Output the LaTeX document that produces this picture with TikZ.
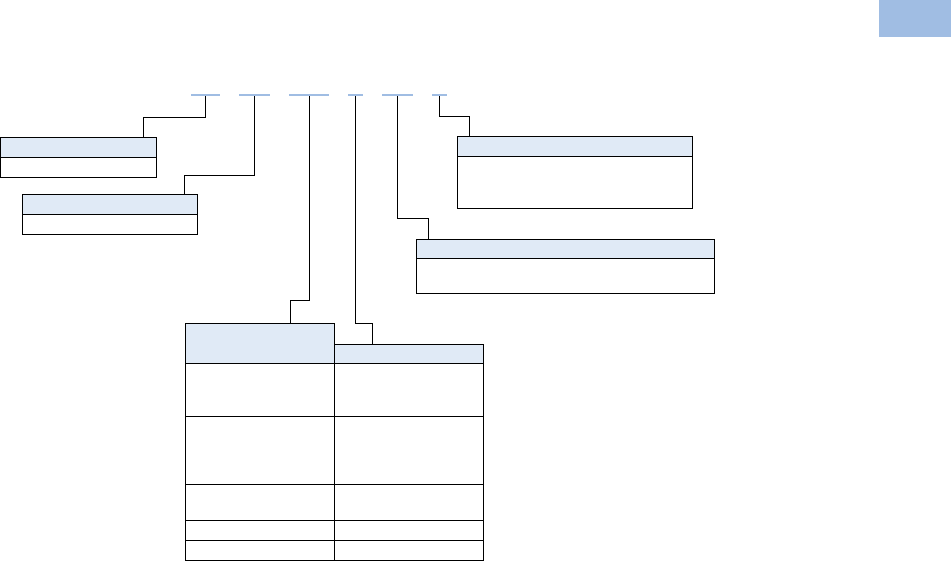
\documentclass[tikz,border=0pt]{standalone}
\usetikzlibrary{positioning}

\definecolor{headblue}{RGB}{224,234,246}
\definecolor{markblue}{RGB}{160,189,227}

\begin{document}
\begin{tikzpicture}[
  x=1pt, y=-1pt,
  cell/.style={rectangle, draw, line width=1pt, anchor=north west, inner sep=0pt, outer sep=0pt, minimum width=#1},
  head/.style={cell=#1, fill=headblue},
  dash/.style={rectangle, fill=markblue, inner sep=0pt, minimum height=2pt, minimum width=#1},
  link/.style={line width=1pt}
]
\useasboundingbox (0,0) rectangle (951,561);

% tab in the corner
\node[rectangle, fill=markblue, anchor=north west, inner sep=0pt, minimum width=72pt, minimum height=37pt] (tab) at (879,0) {};

% code positions
\node[dash=29pt] (d1) at (205.5,95) {};
\node[dash=31pt] (d2) at (254.5,95) {};
\node[dash=40pt] (d3) at (309,95) {};
\node[dash=15pt] (d4) at (355.5,95) {};
\node[dash=31pt] (d5) at (397.5,95) {};
\node[dash=15pt] (d6) at (439.5,95) {};

% small boxes
\node[head=156pt, minimum height=20pt] (h1) at (0.5,137.3) {};
\node[cell=156pt, minimum height=20pt] (b1) at (0.5,157.3) {};

\node[head=175.4pt, minimum height=20pt] (h2) at (22.3,194.3) {};
\node[cell=175.4pt, minimum height=20pt] (b2) at (22.3,214.3) {};

\node[head=235pt, minimum height=20pt] (h6) at (457.3,136.3) {};
\node[cell=235pt, minimum height=52pt] (b6) at (457.3,156.3) {};

\node[head=298pt, minimum height=19pt] (h5) at (416.3,239.3) {};
\node[cell=298pt, minimum height=35.7pt] (b5) at (416.3,258.3) {};

% table
\node[head=149pt, minimum height=40pt] (th1) at (185.3,324) {};
\node[head=149pt, minimum height=19.7pt] (th2) at (334.3,344.3) {};
\node[cell=149pt, minimum height=52.3pt] (r1a) at (185.3,364) {};
\node[cell=149pt, minimum height=52.3pt] (r1b) at (334.3,364) {};
\node[cell=149pt, minimum height=68pt] (r2a) at (185.3,416.3) {};
\node[cell=149pt, minimum height=68pt] (r2b) at (334.3,416.3) {};
\node[cell=149pt, minimum height=36pt] (r3a) at (185.3,484.3) {};
\node[cell=149pt, minimum height=36pt] (r3b) at (334.3,484.3) {};
\node[cell=149pt, minimum height=20pt] (r4a) at (185.3,520.3) {};
\node[cell=149pt, minimum height=20pt] (r4b) at (334.3,520.3) {};
\node[cell=149pt, minimum height=19.7pt] (r5a) at (185.3,540.3) {};
\node[cell=149pt, minimum height=19.7pt] (r5b) at (334.3,540.3) {};

% bends of the leaders
\coordinate (j1) at (143.3,117.3);
\coordinate (j2) at (184.3,175.3);
\coordinate (j3) at (290.3,301);
\coordinate (j4) at (372.3,324);
\coordinate (j5) at (428.3,218.3);
\coordinate (j6) at (469.3,116.7);

\draw[link] (d1.south) |- (j1) -- (j1 |- h1.north);
\draw[link] (d2.south) |- (j2) -- (j2 |- h2.north);
\draw[link] (d3.south) |- (j3) -- (j3 |- th1.north);
\draw[link] (d4.south) |- (j4) -- (j4 |- th2.north);
\draw[link] (d5.south) |- (j5) -- (j5 |- h5.north);
\draw[link] (d6.south) |- (j6) -- (j6 |- h6.north);
\end{tikzpicture}
\end{document}
